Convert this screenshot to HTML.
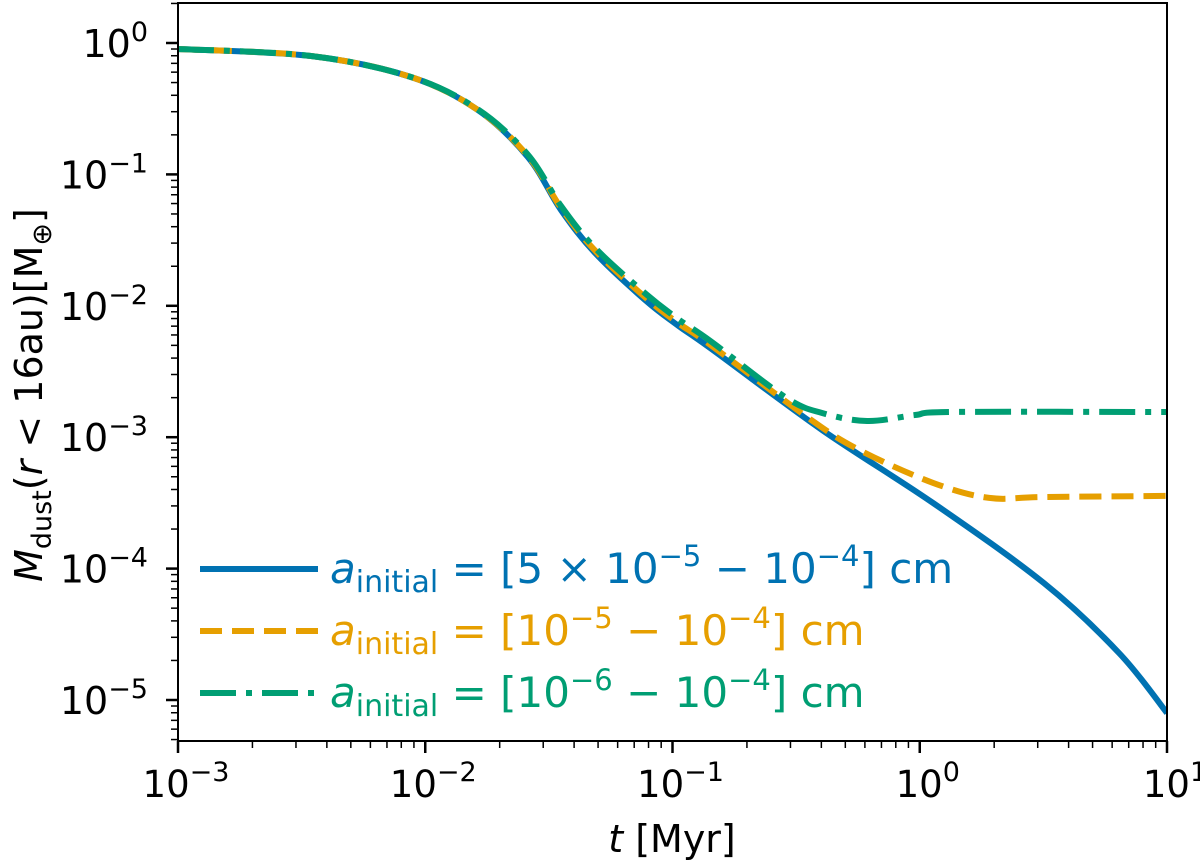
<!DOCTYPE html>
<html><head><meta charset="utf-8"><style>
body{margin:0;background:#fff;}
svg text{font-family:"DejaVu Sans","Liberation Sans",sans-serif;}
</style></head><body>
<svg id="c" width="1200" height="863" xmlns="http://www.w3.org/2000/svg"></svg>
<script>
// log10(t [Myr]) and log10(M [M_earth])
const logTBlue=[-3,-2.462,-2.058,-1.787,-1.585,-1.451,-1.313,-1.111,-0.978,-0.845,-0.395,0.054,0.502,0.806,1];
const logMBlue=[-0.046,-0.099,-0.259,-0.510,-0.868,-1.271,-1.598,-1.956,-2.150,-2.325,-2.945,-3.501,-4.110,-4.642,-5.099];
const logTOrange=[-3,-2.462,-2.058,-1.787,-1.585,-1.451,-1.313,-1.111,-0.978,-0.845,-0.456,-0.245,0.054,0.281,0.502,1];
const logMOrange=[-0.046,-0.099,-0.259,-0.510,-0.860,-1.255,-1.580,-1.935,-2.130,-2.300,-2.846,-3.097,-3.348,-3.462,-3.455,-3.447];
const logTGreen=[-3,-2.462,-2.058,-1.787,-1.585,-1.451,-1.313,-1.111,-0.978,-0.845,-0.545,-0.395,-0.213,-0.019,0.131,1];
const logMGreen=[-0.046,-0.099,-0.259,-0.505,-0.850,-1.240,-1.560,-1.905,-2.100,-2.270,-2.694,-2.816,-2.877,-2.831,-2.808,-2.808];
const xTicks=[-3,-2,-1,0,1];
const yTicks=[0,-1,-2,-3,-4,-5];
const X0=178,X1=1167,Y0=3,Y1=741;
const sx=l=>X0+(l+3)/4*(X1-X0);
const sy=l=>43-l*131.4;
const svg=document.getElementById('c');
const NS='http://www.w3.org/2000/svg';
function mk(t,a,p){const e=document.createElementNS(NS,t);for(const k in a)e.setAttribute(k,a[k]);(p||svg).appendChild(e);return e;}
function path(ts,ms){
 const p=ts.map((t,i)=>[sx(t),sy(ms[i])]);
 let d='M'+p[0][0].toFixed(1)+' '+p[0][1].toFixed(1);
 for(let i=0;i<p.length-1;i++){
  const a=p[Math.max(0,i-1)],b=p[i],c=p[i+1],e=p[Math.min(p.length-1,i+2)];
  const c1=[b[0]+(c[0]-a[0])/6,b[1]+(c[1]-a[1])/6],c2=[c[0]-(e[0]-b[0])/6,c[1]-(e[1]-b[1])/6];
  d+=' C'+c1.map(v=>v.toFixed(1)).join(' ')+' '+c2.map(v=>v.toFixed(1)).join(' ')+' '+c[0].toFixed(1)+' '+c[1].toFixed(1);
 }
 return d;}
const clip=mk('clipPath',{id:'cp'});mk('rect',{x:X0,y:Y0,width:X1-X0,height:Y1-Y0},clip);
let e;
e=mk('path',{d:path(logTBlue,logMBlue),stroke:'#0072B2','stroke-width':6,fill:'none','clip-path':'url(#cp)'});

e=mk('path',{d:path(logTOrange,logMOrange),stroke:'#E69F00','stroke-width':6,fill:'none','stroke-dasharray':'22 10','clip-path':'url(#cp)'});

e=mk('path',{d:path(logTGreen,logMGreen),stroke:'#009E73','stroke-width':6,fill:'none','stroke-dasharray':'36 10 6 10','clip-path':'url(#cp)'});

e=mk('rect',{x:X0,y:Y0,width:X1-X0,height:Y1-Y0,fill:'none',stroke:'#000','stroke-width':2});

xTicks.forEach((d,i)=>{const x=sx(d);
 mk('line',{x1:x,x2:x,y1:Y1,y2:Y1+12,stroke:'#000','stroke-width':2.5});
 if(i<xTicks.length-1)for(let k=2;k<10;k++){const xm=x+Math.log10(k)/4*(X1-X0);mk('line',{x1:xm,x2:xm,y1:Y1,y2:Y1+7,stroke:'#000','stroke-width':1.5});}
 const t=mk('text',{x:x+8,y:797,'font-size':37,'text-anchor':'middle'});
 
 t.innerHTML='10<tspan dy="-16" font-size="27">'+(d<0?'−'+(-d):d)+'</tspan>';});
yTicks.forEach(d=>{const y=sy(d);
 mk('line',{x1:X0-12,x2:X0,y1:y,y2:y,stroke:'#000','stroke-width':2.5});
 for(let k=2;k<10;k++){const ym=sy(d-1+Math.log10(k));if(ym<Y1)mk('line',{x1:X0-7,x2:X0,y1:ym,y2:ym,stroke:'#000','stroke-width':1.5});}
 if(d==0)for(let k=2;k<10;k++){const ym=sy(Math.log10(k));if(ym>Y0)mk('line',{x1:X0-7,x2:X0,y1:ym,y2:ym,stroke:'#000','stroke-width':1.5});}
 const t=mk('text',{x:148,y:y+14,'font-size':38,'text-anchor':'end'});
 
 t.innerHTML='10<tspan dy="-16" font-size="27">'+(d<0?'−'+(-d):d)+'</tspan>';});
e=mk('text',{x:672,y:852,'font-size':38,'text-anchor':'middle'});

e.innerHTML='<tspan font-style="italic">t</tspan> [Myr]';
e=mk('text',{x:0,y:0,'font-size':38,'text-anchor':'middle',transform:'translate(42,395) rotate(-90)'});

e.innerHTML='<tspan font-style="italic">M</tspan><tspan font-size="27" dy="9">dust</tspan><tspan dy="-9">(</tspan><tspan font-style="italic">r</tspan> &lt; 16au)[M<tspan font-size="27" dy="9">⊕</tspan><tspan dy="-9">]</tspan>';
const leg=[['#0072B2','none','[5 × 10<tspan dy="-17" font-size="29">−5</tspan><tspan dy="17"> − 10</tspan><tspan dy="-17" font-size="29">−4</tspan><tspan dy="17">] cm</tspan>'],
 ['#E69F00','22 10','[10<tspan dy="-17" font-size="29">−5</tspan><tspan dy="17"> − 10</tspan><tspan dy="-17" font-size="29">−4</tspan><tspan dy="17">] cm</tspan>'],
 ['#009E73','36 10 6 10','[10<tspan dy="-17" font-size="29">−6</tspan><tspan dy="17"> − 10</tspan><tspan dy="-17" font-size="29">−4</tspan><tspan dy="17">] cm</tspan>']];
leg.forEach((l,i)=>{const y=569+i*62;
 const g=mk('g',{});
 mk('line',{x1:200,x2:318,y1:y,y2:y,stroke:l[0],'stroke-width':6,'stroke-dasharray':l[1]},g);
 const t=mk('text',{x:330,y:y+14,'font-size':42,fill:l[0]},g);
 t.innerHTML='<tspan font-style="italic">a</tspan><tspan font-size="30" dy="9">initial</tspan><tspan dy="-9"> = </tspan>'+l[2];});
</script>
</body></html>
